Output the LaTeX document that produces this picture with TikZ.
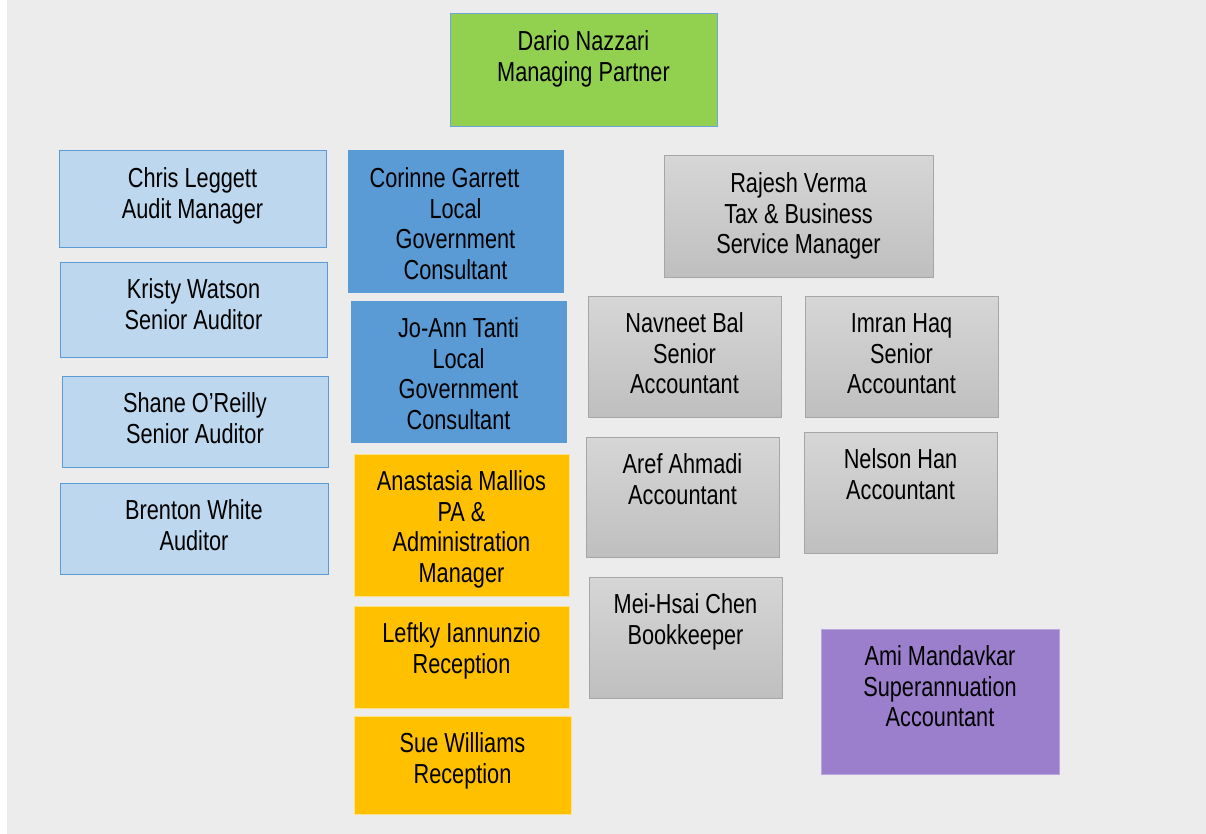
\documentclass[tikz,border=0pt]{standalone}
\usepackage{fontspec}
\setmainfont{Liberation Sans}[FakeStretch=0.79]
\definecolor{pagebg}{HTML}{ECECEC}
\definecolor{leafgreen}{HTML}{92D050}
\definecolor{edgeblue}{HTML}{6FA3DB}
\definecolor{paleblue}{HTML}{BDD7EE}
\definecolor{midblue}{HTML}{5B9BD5}
\definecolor{amber}{HTML}{FFC000}
\definecolor{amberedge}{HTML}{FFE08C}
\definecolor{greytop}{HTML}{D6D6D6}
\definecolor{greybot}{HTML}{BFBFBF}
\definecolor{greyedge}{HTML}{A6A6A6}
\definecolor{lilac}{HTML}{9B7FCC}
\definecolor{lilacedge}{HTML}{B9A6E0}
\tikzset{
  card/.style={draw, line width=1pt, inner sep=0pt, outer sep=0pt, anchor=north west},
  partner/.style={card, fill=leafgreen, draw=edgeblue},
  audit/.style={card, fill=paleblue, draw=midblue},
  govt/.style={card, fill=midblue, draw=midblue},
  admin/.style={card, fill=amber, draw=amberedge},
  tax/.style={card, top color=greytop, bottom color=greybot, draw=greyedge},
  super/.style={card, fill=lilac, draw=lilacedge},
  lbl/.style={anchor=north, inner sep=0pt, outer sep=0pt, align=center,
    font=\fontsize{27.5pt}{30.5pt}\selectfont, text=black}
}
% \orgcard{name}{x1}{y1}{x2}{y2}{style}{text}
\newcommand\orgcard[7]{%
  \node[#6, minimum width={#4pt-#2pt}, minimum height={#5pt-#3pt}] (#1) at (#2,#3) {};
  \node[lbl] (#1-t) at ([yshift=-15.2pt]#1.north) {\strut #7};
}
\begin{document}
\begin{tikzpicture}[x=1pt,y=-1pt]
  \useasboundingbox (0,0) rectangle (1206,834);
  \fill[white] (0,0) rectangle (1206,834);
  \fill[pagebg] (7,0) rectangle (1206,834);

  \orgcard{dario}{450}{14}{717}{127}{partner}{Dario Nazzari\\Managing Partner}

  \orgcard{chris}{59}{151}{326}{247}{audit}{Chris Leggett\\Audit Manager}
  \orgcard{kristy}{60}{262}{327}{357}{audit}{Kristy Watson\\Senior Auditor}
  \orgcard{shane}{62}{376}{328}{467}{audit}{Shane O’Reilly\\Senior Auditor}
  \orgcard{brenton}{60}{483}{328}{574}{audit}{Brenton White\\Auditor}

  % the long first line runs flush left in its card
  \orgcard{corinne}{348}{151}{563}{292}{govt}{\hspace*{-22pt}Corinne Garrett\\Local\\Government\\Consultant}
  \orgcard{joann}{351}{301}{566}{442}{govt}{Jo-Ann Tanti\\Local\\Government\\Consultant}

  \orgcard{anastasia}{354}{454}{569}{596}{admin}{Anastasia Mallios\\PA \&\\Administration\\Manager}
  \orgcard{leftky}{354}{606}{569}{708}{admin}{Leftky Iannunzio\\Reception}
  \orgcard{sue}{354}{716}{571}{814}{admin}{Sue Williams\\Reception}

  \orgcard{rajesh}{664}{156}{933}{277}{tax}{Rajesh Verma\\Tax \& Business\\Service Manager}
  \orgcard{navneet}{588}{296}{781}{417}{tax}{Navneet Bal\\Senior\\Accountant}
  \orgcard{imran}{805}{296}{998}{417}{tax}{Imran Haq\\Senior\\Accountant}
  \orgcard{aref}{586}{437}{779}{557}{tax}{Aref Ahmadi\\Accountant}
  \orgcard{nelson}{804}{432}{997}{553}{tax}{Nelson Han\\Accountant}
  \orgcard{meihsai}{589}{577}{782}{698}{tax}{Mei-Hsai Chen\\Bookkeeper}

  \orgcard{ami}{821}{629}{1059}{774}{super}{Ami Mandavkar\\Superannuation\\Accountant}
\end{tikzpicture}
\end{document}
